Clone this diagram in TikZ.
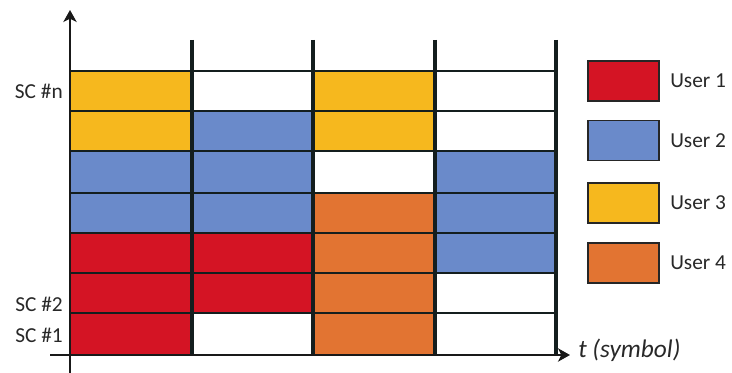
\documentclass[tikz,border=0pt]{standalone}
\usepackage{fontspec}
\setmainfont{Carlito}
\usetikzlibrary{arrows.meta}
\definecolor{uRed}{RGB}{212,20,36}
\definecolor{uBlue}{RGB}{106,138,202}
\definecolor{uYellow}{RGB}{246,184,30}
\definecolor{uOrange}{RGB}{226,116,50}
\definecolor{gridc}{RGB}{20,30,30}
\definecolor{txtc}{RGB}{40,40,40}
\tikzset{
  gridline/.style={draw=gridc, line width=1.5pt},
  colline/.style={draw=gridc, line width=2.5pt},
  axisline/.style={draw=black!90, line width=2pt, -{Stealth[length=9pt,width=10pt,inset=2.5pt]}},
  sclabel/.style={anchor=east, inner sep=0pt, text=txtc, font=\fontsize{16}{18}\selectfont},
  legbox/.style={draw=black!85, line width=1.3pt, minimum width=53pt, minimum height=30pt, inner sep=0pt},
  leglabel/.style={anchor=west, inner sep=0pt, text=txtc, font=\fontsize{16}{18}\selectfont},
}
\begin{document}
\begin{tikzpicture}[x=0.75pt,y=-0.75pt]
\useasboundingbox (0,0) rectangle (732,373);
% cell fills
\foreach \xa/\xb/\ya/\yb/\clr in {
  70/192/71/151/uYellow, 70/192/151/233/uBlue, 70/192/233/355/uRed,
  192/313/111/233/uBlue, 192/313/233/313/uRed,
  313/435/71/151/uYellow, 313/435/193/355/uOrange,
  435/556/151/273/uBlue}
  \fill[\clr] (\xa,\ya) rectangle (\xb,\yb);
% horizontal grid lines
\foreach \yy in {71,111,151,193,233,273,313}
  \draw[gridline] (70,\yy) -- (556,\yy);
% column lines
\foreach \xx in {192,313,435,556}
  \draw[colline] (\xx,40) -- (\xx,355);
% axes
\coordinate (yb) at (70,373);
\coordinate (yt) at (70,10);
\coordinate (xl) at (50,355);
\coordinate (xr) at (570,355);
\draw[axisline] (yb) -- (yt);
\draw[axisline] (xl) -- (xr);
% labels
\node[sclabel] (scn) at (63,91) {SC \#n};
\node[sclabel] (sc2) at (63,304) {SC \#2};
\node[sclabel] (sc1) at (63,335) {SC \#1};
\node[anchor=west, inner sep=0pt, text=txtc, font=\fontsize{19}{22}\itshape\selectfont] (tlab) at (578,350) {t (symbol)};
% legend
\node[legbox, fill=uRed] (l1) at (623.5,81) {};
\node[legbox, fill=uBlue] (l2) at (623.5,140.5) {};
\node[legbox, fill=uYellow] (l3) at (623.5,203) {};
\node[legbox, fill=uOrange] (l4) at (623.5,263) {};
\node[leglabel] (t1) at (670,81) {User 1};
\node[leglabel] (t2) at (670,140.5) {User 2};
\node[leglabel] (t3) at (670,203) {User 3};
\node[leglabel] (t4) at (670,263) {User 4};
\end{tikzpicture}
\end{document}
